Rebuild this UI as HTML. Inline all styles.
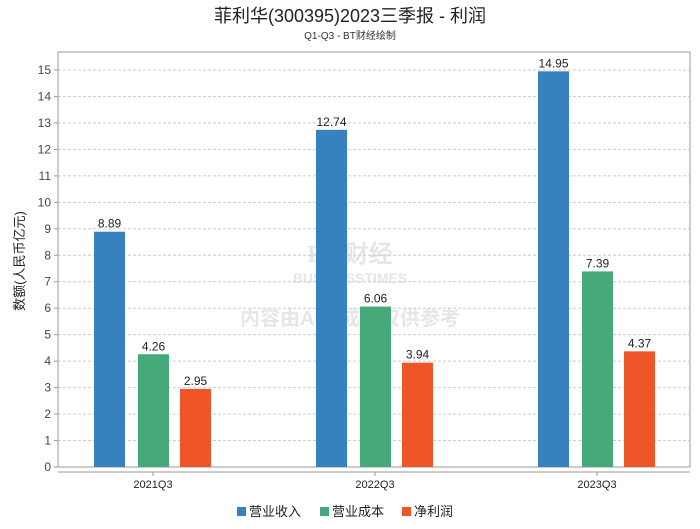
<!DOCTYPE html>
<html><head><meta charset="utf-8"><style>
body{margin:0;background:#fff;font-family:"Liberation Sans","Noto Sans CJK SC",sans-serif;}
</style></head><body>
<svg id="c" width="700" height="524" xmlns="http://www.w3.org/2000/svg" style="font-family:'Liberation Sans','Noto Sans CJK SC',sans-serif">
<text x="350" y="22" text-anchor="middle" font-size="18" fill="#222">菲利华(300395)2023三季报 - 利润</text>
<text x="350" y="39" text-anchor="middle" font-size="10" fill="#333">Q1-Q3 - BT财经绘制</text>
<g opacity="0.18" fill="#777">
<text x="350" y="262" text-anchor="middle" font-size="24" font-weight="bold" font-family="Liberation Serif,serif">BT 财经</text>
<text x="350" y="283" text-anchor="middle" font-size="14" font-weight="bold">BUSINESSTIMES</text>
<text x="350" y="325" text-anchor="middle" font-size="20" font-weight="bold">内容由AI生成，仅供参考</text>
</g>
<text transform="translate(24,261) rotate(-90)" text-anchor="middle" font-size="13" fill="#222">数额(人民币亿元)</text>
<g id="grid"></g><g id="bars"></g>
<g font-size="13" fill="#222">
<rect x="237" y="507" width="9" height="9" fill="#3781bf"/><text x="249" y="516">营业收入</text>
<rect x="320" y="507" width="9" height="9" fill="#46a97a"/><text x="332" y="516">营业成本</text>
<rect x="402" y="507" width="9" height="9" fill="#f05528"/><text x="414" y="516">净利润</text>
</g>
</svg>
<script>
const categories=["2021Q3","2022Q3","2023Q3"];
const revenue=[8.89,12.74,14.95];
const cost=[4.26,6.06,7.39];
const profit=[2.95,3.94,4.37];
const yTicks=[0,1,2,3,4,5,6,7,8,9,10,11,12,13,14,15];
const NS="http://www.w3.org/2000/svg";
const L=58,R=690,T=52,B=467;
const y=v=>B-v*(B-70)/15;
const cx=i=>153+i*222;
const g=document.getElementById('grid'),bg=document.getElementById('bars');
function mk(tag,at,par){const e=document.createElementNS(NS,tag);for(const k in at)e.setAttribute(k,at[k]);par.appendChild(e);return e;}
const frame=mk('rect',{x:L,y:T,width:R-L,height:B-T,fill:'none',stroke:'#999'},g);


yTicks.forEach(t=>{
 if(t>0)mk('line',{x1:L,x2:R,y1:y(t),y2:y(t),stroke:'#ccc','stroke-dasharray':'3,2'},g);
 mk('line',{x1:L-4,x2:L,y1:y(t),y2:y(t),stroke:'#999'},g);
 const tx=mk('text',{x:L-7,y:y(t)+4,'text-anchor':'end','font-size':12,fill:'#444'},g);
 tx.textContent=t;
 
 
});
mk('line',{x1:L,x2:R,y1:472,y2:472,stroke:'#999'},g);
const series=[[revenue,'#3781bf',-59],[cost,'#46a97a',-15],[profit,'#f05528',27]];
categories.forEach((c,i)=>{
 mk('line',{x1:cx(i),x2:cx(i),y1:472,y2:476,stroke:'#999'},g);
 const lt=mk('text',{x:cx(i),y:488,'text-anchor':'middle','font-size':11,fill:'#222'},g);
 lt.textContent=c;
 
 
 series.forEach(([arr,col,off])=>{
  const v=arr[i];
  const r=mk('rect',{x:cx(i)+off,y:y(v),width:31,height:B-y(v),fill:col},bg);
  
  
  const t=mk('text',{x:cx(i)+off+15.5,y:y(v)-4,'text-anchor':'middle','font-size':12,fill:'#222'},bg);
  t.textContent=v.toFixed(2);
  
  
 });
});
</script>
</body></html>
